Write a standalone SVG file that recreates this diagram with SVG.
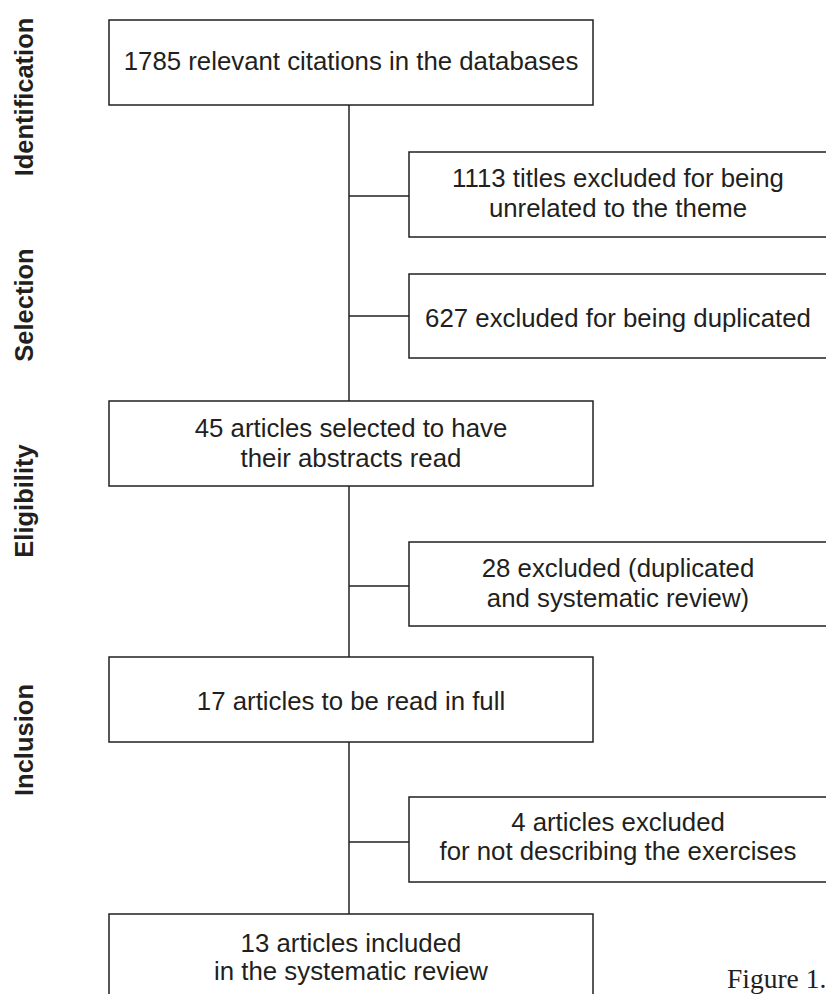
<svg xmlns="http://www.w3.org/2000/svg" width="826" height="994" viewBox="0 0 826 994">
<style>
.box{fill:#fff;stroke:#231f20;stroke-width:1.5}
.t{font-family:"Liberation Sans",Arial,sans-serif;font-size:25.8px;fill:#231f20;text-anchor:middle}
.lab{font-family:"Liberation Sans",Arial,sans-serif;font-size:25.5px;font-weight:bold;fill:#231f20;text-anchor:middle}
.c{stroke:#231f20;stroke-width:1.5;fill:none}
</style>
<rect width="826" height="994" fill="#fff"/>
<g id="connectors">
<line class="c" x1="349" y1="105" x2="349" y2="914"/>
<line class="c" x1="349" y1="196" x2="409" y2="196"/>
<line class="c" x1="349" y1="316" x2="409" y2="316"/>
<line class="c" x1="349" y1="586" x2="409" y2="586"/>
<line class="c" x1="349" y1="842" x2="409" y2="842"/>
</g>
<g id="phase-labels">
<text class="lab" transform="translate(33,97) rotate(-90)">Identification</text>
<text class="lab" transform="translate(33,305) rotate(-90)">Selection</text>
<text class="lab" transform="translate(33,501) rotate(-90)">Eligibility</text>
<text class="lab" transform="translate(33,740) rotate(-90)">Inclusion</text>
</g>
<g id="n1">
<rect class="box" x="109" y="20" width="484" height="85"/>
<text class="t" x="351" y="70">1785 relevant citations in the databases</text>
</g>
<g id="n2">
<rect class="box" x="409" y="152" width="420" height="85"/>
<text class="t" x="618" y="187">1113 titles excluded for being</text>
<text class="t" x="618" y="217">unrelated to the theme</text>
</g>
<g id="n3">
<rect class="box" x="409" y="274" width="420" height="84"/>
<text class="t" x="618" y="327">627 excluded for being duplicated</text>
</g>
<g id="n4">
<rect class="box" x="109" y="401" width="484" height="85"/>
<text class="t" x="351" y="437">45 articles selected to have</text>
<text class="t" x="351" y="467">their abstracts read</text>
</g>
<g id="n5">
<rect class="box" x="409" y="542" width="420" height="84"/>
<text class="t" x="618" y="577">28 excluded (duplicated</text>
<text class="t" x="618" y="607">and systematic review)</text>
</g>
<g id="n6">
<rect class="box" x="109" y="657" width="484" height="85"/>
<text class="t" x="351" y="710">17 articles to be read in full</text>
</g>
<g id="n7">
<rect class="box" x="409" y="797" width="420" height="85"/>
<text class="t" x="618" y="831">4 articles excluded</text>
<text class="t" x="618" y="860">for not describing the exercises</text>
</g>
<g id="n8">
<rect class="box" x="109" y="914" width="484" height="100"/>
<text class="t" x="351" y="952">13 articles included</text>
<text class="t" x="351" y="980">in the systematic review</text>
</g>
<text x="727" y="988" font-family="'Liberation Serif','Times New Roman',serif" font-size="27.5" fill="#231f20">Figure 1.</text>
</svg>
